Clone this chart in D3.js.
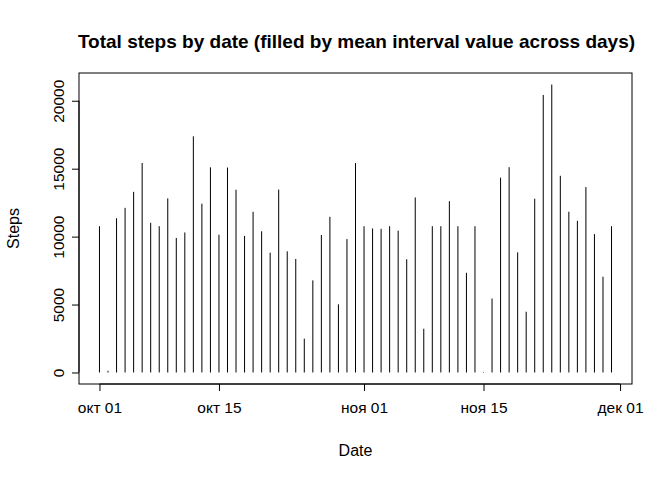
<!DOCTYPE html>
<html><head><meta charset="utf-8">
<script src="https://cdn.jsdelivr.net/npm/d3@7"></script>
<style>body{margin:0;background:#fff}text{font-family:"Liberation Sans",Arial,sans-serif}</style>
</head><body>
<svg id="c" width="672" height="480"></svg>
<script>
const dates = d3.timeDays(new Date(2012,9,1), new Date(2012,11,1));
const steps = [10766,126,11352,12116,13294,15420,11015,10766,12811,9900,10304,17382,12426,15098,10139,15084,13452,10056,11829,10395,8821,13460,8918,8355,2492,6778,10119,11458,5018,9819,15414,
10766,10600,10571,10766,10439,8334,12883,3219,10766,10766,12608,10765,7336,10766,41,5441,14339,15110,8841,4472,12787,20427,21194,14478,11834,11162,13646,10183,7047,10766];
const yTicks = [0,5000,10000,15000,20000];
const xTicks = [new Date(2012,9,1),new Date(2012,9,15),new Date(2012,10,1),new Date(2012,10,15),new Date(2012,11,1)];
const xLabels = ["окт 01","окт 15","ноя 01","ноя 15","дек 01"];

const L=79,R=632,T=73,B=384;
const svg=d3.select("#c");
const d0=dates[0],d1=dates[dates.length-1];
const pad=(d1-d0)*0.04;
const x=d3.scaleTime().domain([new Date(+d0-pad),new Date(+d1+pad)]).range([L,R]);
const ymax=d3.max(steps), yp=ymax*0.04;
const y=d3.scaleLinear().domain([-yp,ymax+yp]).range([B,T]);

svg.append("g").selectAll("line").data(dates).enter().append("line")
  .attr("x1",d=>x(d)).attr("x2",d=>x(d))
  .attr("y1",y(0)).attr("y2",(d,i)=>y(steps[i]))
  .attr("stroke","#000").attr("stroke-width",1);

svg.append("rect").attr("x",L).attr("y",T).attr("width",R-L).attr("height",B-T)
  .attr("fill","none").attr("stroke","#000");

const xa=svg.append("g").attr("transform",`translate(0,${B})`)
  .call(d3.axisBottom(x).tickValues(xTicks).tickSize(7).tickFormat((d,i)=>xLabels[i]));
xa.select(".domain").attr("d",`M${x(xTicks[0])},0H${x(xTicks[4])}`);
xa.selectAll("text").attr("font-size",15.5).attr("dy","1.2em").attr("fill","#000");

const ya=svg.append("g").attr("transform",`translate(${L},0)`)
  .call(d3.axisLeft(y).tickValues(yTicks).tickSize(7).tickFormat(d3.format("d")));
ya.select(".domain").attr("d",`M0,${y(0)}V${y(20000)}`);
ya.selectAll(".tick text").attr("font-size",15.5).attr("fill","#000")
  .attr("text-anchor","middle").attr("x",null).attr("dy",null)
  .attr("transform","translate(-15,0) rotate(-90)");

svg.append("text").attr("x",(L+R)/2+1).attr("y",48).attr("text-anchor","middle")
  .attr("font-size",19).attr("font-weight","bold").text("Total steps by date (filled by mean interval value across days)");
svg.append("text").attr("x",(L+R)/2).attr("y",456).attr("text-anchor","middle").attr("font-size",16).text("Date");
svg.append("text").attr("transform",`translate(19,${(T+B)/2}) rotate(-90)`).attr("text-anchor","middle").attr("font-size",16).text("Steps");
</script>
</body></html>
